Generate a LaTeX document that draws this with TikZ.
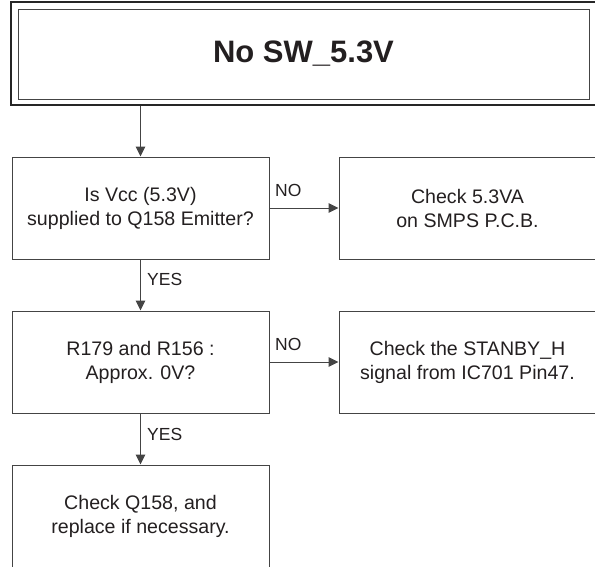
\documentclass[tikz,border=0pt]{standalone}
\usepackage{fontspec}
\setmainfont{Liberation Sans}
\usetikzlibrary{arrows.meta}
\definecolor{ln}{HTML}{444444}
\definecolor{tx}{HTML}{231F20}
\tikzset{
  box/.style={draw=ln, line width=1pt, minimum width=257pt, minimum height=102pt, inner sep=0pt,
    align=center, text=tx, font=\fontsize{19.6}{24}\selectfont},
  arr/.style={draw=ln, line width=1pt, -{Triangle[length=10pt,width=9.5pt]}},
  lbl/.style={anchor=base west, inner sep=0pt, text=tx, font=\fontsize{17.5}{20}\selectfont},
}
\begin{document}
\begin{tikzpicture}[x=1pt,y=-1pt]
\useasboundingbox (0,0) rectangle (595,566);
\clip (0,0) rectangle (595,566);
% title
\node[draw=black!85, line width=1.2pt, minimum width=595pt, minimum height=103pt, inner sep=0pt] (outer) at (308.5,53.5) {};
\node[draw=ln, line width=1pt, minimum width=571pt, minimum height=90pt, inner sep=0pt, text=tx,
  font=\fontsize{31}{36}\selectfont\bfseries] (title) at (303.5,54) {No SW\_5.3V};
% boxes
\node[box] (q1) at (140.5,208) {Is Vcc (5.3V)\\supplied to Q158 Emitter?};
\node[box, minimum width=262pt] (r1) at (470,208) {};
\node[box] (r1t) at (467.5,208) [draw=none] {Check 5.3VA\\on SMPS P.C.B.};
\node[box] (q2) at (140.5,362) {R179 and R156 :\\Approx. 0V?};
\node[box, minimum width=262pt] (r2) at (470,362) {};
\node[box] (r2t) at (467.5,362) [draw=none] {Check the STANBY\_H\\signal from IC701 Pin47.};
\node[box, minimum height=104pt] (q3) at (140.5,517) {};
\node[box, draw=none] (q3t) at (140.5,516) {Check Q158, and\\replace if necessary.};
% connectors
\draw[arr] (q1.north |- outer.south) -- (q1.north);
\draw[arr] (q1) -- (r1);
\draw[arr] (q1) -- (q2);
\draw[arr] (q2) -- (r2);
\draw[arr] (q2) -- (q3);
% labels
\node[lbl] (no1) at (275,196) {NO};
\node[lbl] (yes1) at (147,285) {YES};
\node[lbl] (no2) at (275,350) {NO};
\node[lbl] (yes2) at (147,440) {YES};
\end{tikzpicture}
\end{document}
